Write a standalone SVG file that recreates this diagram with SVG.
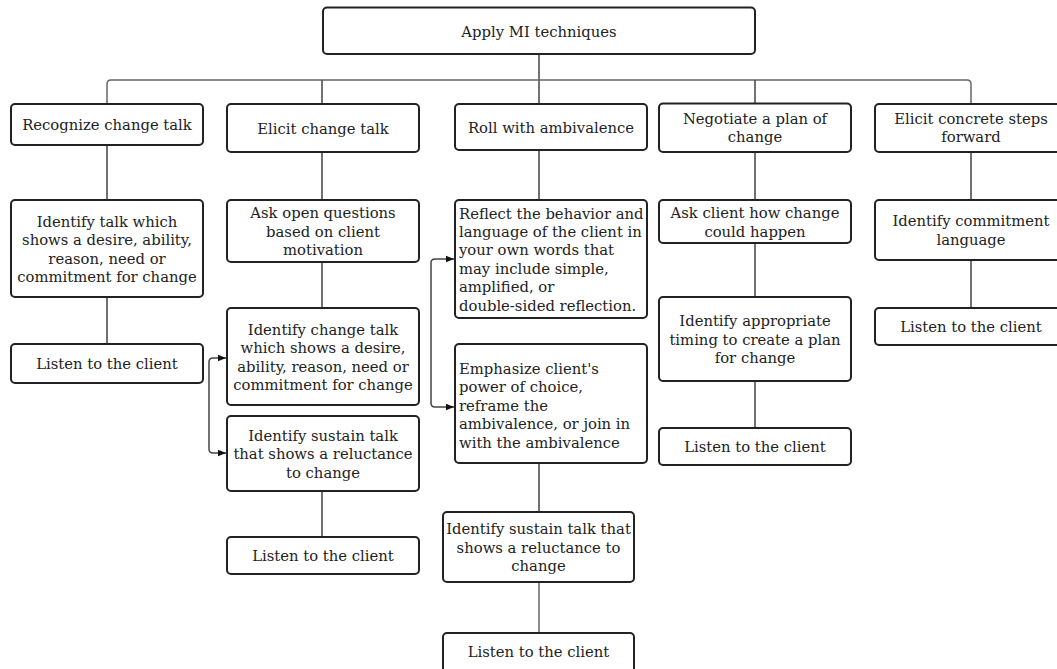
<svg xmlns="http://www.w3.org/2000/svg" width="1057" height="669" viewBox="0 0 1057 669">
<style>
.b{fill:#fff;stroke:#222;stroke-width:2}
.t{font-family:"DejaVu Serif","Liberation Serif",serif;font-size:14.8px;fill:#222;text-anchor:middle}
.l{text-anchor:start}
.c{fill:none;stroke:#444;stroke-width:1.5}
.g{fill:none;stroke:#666;stroke-width:1.5}
</style>
<defs>
<marker id="ah" viewBox="0 0 10 10" refX="10" refY="5" markerWidth="8" markerHeight="8" markerUnits="userSpaceOnUse" orient="auto-start-reverse">
<path d="M0,1 L10,5 L0,9 Z" fill="#111"/>
</marker>
</defs>
<rect width="1057" height="669" fill="#fff"/>
<g id="connectors">
<path class="c" d="M539,54 V104"/>
<path class="g" d="M107,104 V84 Q107,80 111,80 H967 Q971,80 971,84 V104"/>
<path class="c" d="M322,80 V104"/>
<path class="c" d="M755,80 V104"/>
<path class="c" d="M107,145 V200 M107,297 V344"/>
<path class="c" d="M322,152 V200 M322,262 V308 M322,491 V537"/>
<path class="c" d="M539,150 V200 M539,463 V512"/>
<path class="g" d="M539,582 V633"/>
<path class="c" d="M755,152 V200 M755,243 V297 M755,381 V428"/>
<path class="c" d="M971,152 V200 M971,260 V308"/>
<path class="c" d="M226,358 H213 Q209,358 209,362 V449 Q209,453 213,453 H226" marker-start="url(#ah)" marker-end="url(#ah)"/>
<path class="c" d="M454,259 H435 Q431,259 431,263 V403 Q431,407 435,407 H454" marker-start="url(#ah)" marker-end="url(#ah)"/>
</g>
<g id="n0"><rect class="b" x="323" y="7.5" width="432" height="46.5" rx="4"/><text class="t" x="539" y="36.5">Apply MI techniques</text></g>
<g id="n1"><rect class="b" x="11" y="104" width="192" height="41" rx="4"/><text class="t" x="107" y="130">Recognize change talk</text></g>
<g id="n2"><rect class="b" x="227" y="104" width="192" height="48" rx="4"/><text class="t" x="323" y="133.5">Elicit change talk</text></g>
<g id="n3"><rect class="b" x="455" y="104" width="192" height="46" rx="4"/><text class="t" x="551" y="132.5">Roll with ambivalence</text></g>
<g id="n4"><rect class="b" x="659" y="103.5" width="192" height="48.5" rx="4"/><text class="t" x="755" y="123.5">Negotiate a plan of<tspan x="755" dy="18.5">change</tspan></text></g>
<g id="n5"><rect class="b" x="875" y="104" width="192" height="48" rx="4"/><text class="t" x="971" y="123.5">Elicit concrete steps<tspan x="971" dy="18.5">forward</tspan></text></g>
<g id="n6"><rect class="b" x="11" y="200" width="192" height="97" rx="4"/><text class="t" x="107" y="226.5">Identify talk which<tspan x="107" dy="18.5">shows a desire, ability,</tspan><tspan x="107" dy="18.5">reason, need or</tspan><tspan x="107" dy="18.5">commitment for change</tspan></text></g>
<g id="n7"><rect class="b" x="11" y="344" width="192" height="39" rx="4"/><text class="t" x="107" y="369">Listen to the client</text></g>
<g id="n8"><rect class="b" x="227" y="200" width="192" height="62" rx="4"/><text class="t" x="323" y="218">Ask open questions<tspan x="323" dy="18.5">based on client</tspan><tspan x="323" dy="18.5">motivation</tspan></text></g>
<g id="n9"><rect class="b" x="227" y="308" width="192" height="97" rx="4"/><text class="t" x="323" y="334.5">Identify change talk<tspan x="323" dy="18.5">which shows a desire,</tspan><tspan x="323" dy="18.5">ability, reason, need or</tspan><tspan x="323" dy="18.5">commitment for change</tspan></text></g>
<g id="n10"><rect class="b" x="227" y="416" width="192" height="75" rx="4"/><text class="t" x="323" y="440.5">Identify sustain talk<tspan x="323" dy="18.5">that shows a reluctance</tspan><tspan x="323" dy="18.5">to change</tspan></text></g>
<g id="n11"><rect class="b" x="227" y="537" width="192" height="37" rx="4"/><text class="t" x="323" y="561">Listen to the client</text></g>
<g id="n12"><rect class="b" x="455" y="200" width="192" height="118" rx="4"/><text class="t l" x="459" y="218.5">Reflect the behavior and<tspan x="459" dy="18.4">language of the client in</tspan><tspan x="459" dy="18.4">your own words that</tspan><tspan x="459" dy="18.4">may include simple,</tspan><tspan x="459" dy="18.4">amplified, or</tspan><tspan x="459" dy="18.4">double-sided reflection.</tspan></text></g>
<g id="n13"><rect class="b" x="455" y="344" width="192" height="119" rx="4"/><text class="t l" x="459" y="374">Emphasize client's<tspan x="459" dy="18.4">power of choice,</tspan><tspan x="459" dy="18.4">reframe the</tspan><tspan x="459" dy="18.4">ambivalence, or join in</tspan><tspan x="459" dy="18.4">with the ambivalence</tspan></text></g>
<g id="n14"><rect class="b" x="443" y="512" width="191" height="70" rx="4"/><text class="t" x="538.5" y="534">Identify sustain talk that<tspan x="538.5" dy="18.5">shows a reluctance to</tspan><tspan x="538.5" dy="18.5">change</tspan></text></g>
<g id="n15"><rect class="b" x="443" y="633" width="191" height="40" rx="4"/><text class="t" x="538.5" y="657">Listen to the client</text></g>
<g id="n16"><rect class="b" x="659" y="200" width="192" height="43" rx="4"/><text class="t" x="755" y="218">Ask client how change<tspan x="755" dy="18.5">could happen</tspan></text></g>
<g id="n17"><rect class="b" x="659" y="297" width="192" height="84" rx="4"/><text class="t" x="755" y="326">Identify appropriate<tspan x="755" dy="18.5">timing to create a plan</tspan><tspan x="755" dy="18.5">for change</tspan></text></g>
<g id="n18"><rect class="b" x="659" y="428" width="192" height="37" rx="4"/><text class="t" x="755" y="452">Listen to the client</text></g>
<g id="n19"><rect class="b" x="875" y="200" width="192" height="60" rx="4"/><text class="t" x="971" y="226">Identify commitment<tspan x="971" dy="18.5">language</tspan></text></g>
<g id="n20"><rect class="b" x="875" y="308" width="192" height="37" rx="4"/><text class="t" x="971" y="332">Listen to the client</text></g>
</svg>
